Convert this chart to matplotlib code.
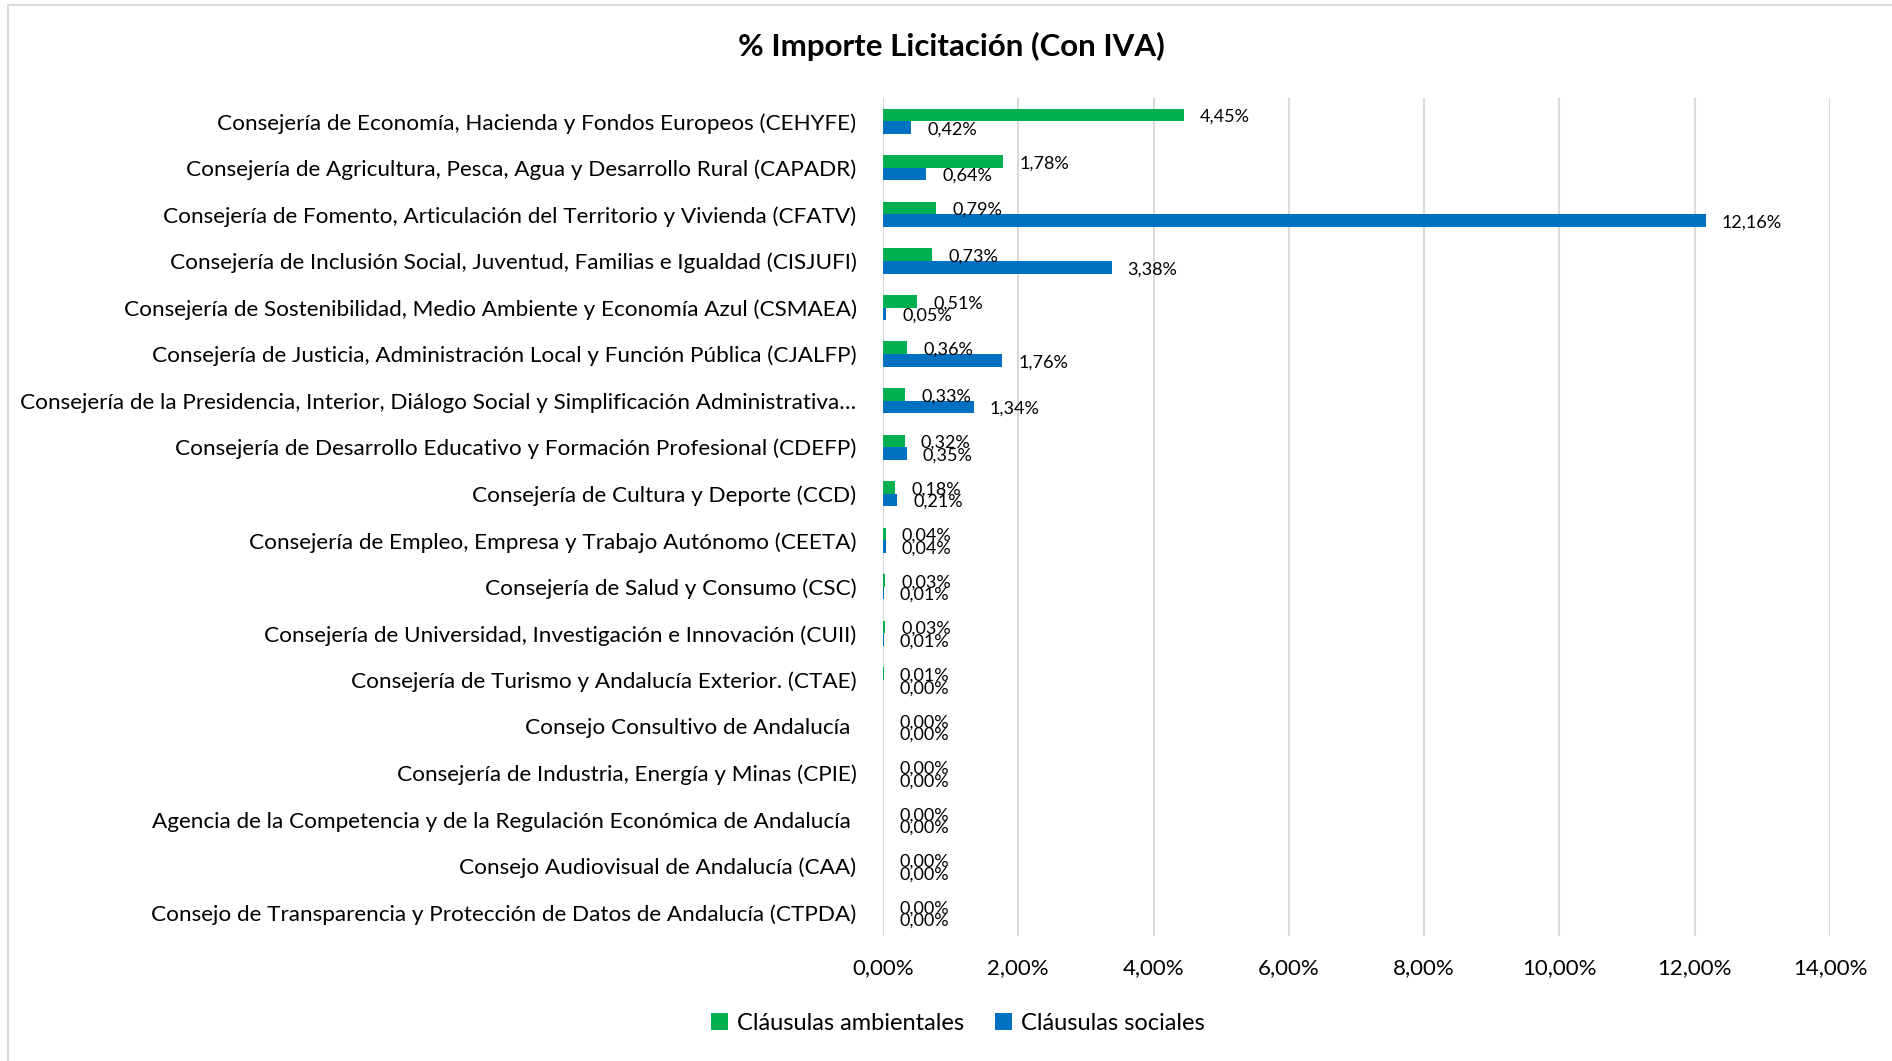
import matplotlib
matplotlib.use("Agg")
import matplotlib.pyplot as plt
import numpy as np
from matplotlib.patches import Rectangle
from matplotlib.transforms import offset_copy

plt.rcParams['font.family'] = ['Lato', 'DejaVu Sans']

categories = [
    "Consejería de Economía, Hacienda y Fondos Europeos (CEHYFE)",
    "Consejería de Agricultura, Pesca, Agua y Desarrollo Rural (CAPADR)",
    "Consejería de Fomento, Articulación del Territorio y Vivienda (CFATV)",
    "Consejería de Inclusión Social, Juventud, Familias e Igualdad (CISJUFI)",
    "Consejería de Sostenibilidad, Medio Ambiente y Economía Azul (CSMAEA)",
    "Consejería de Justicia, Administración Local y Función Pública (CJALFP)",
    "Consejería de la Presidencia, Interior, Diálogo Social y Simplificación Administrativa…",
    "Consejería de Desarrollo Educativo y Formación Profesional (CDEFP)",
    "Consejería de Cultura y Deporte (CCD)",
    "Consejería de Empleo, Empresa y Trabajo Autónomo (CEETA)",
    "Consejería de Salud y Consumo (CSC)",
    "Consejería de Universidad, Investigación e Innovación (CUII)",
    "Consejería de Turismo y Andalucía Exterior. (CTAE)",
    "Consejo Consultivo de Andalucía ",
    "Consejería de Industria, Energía y Minas (CPIE)",
    "Agencia de la Competencia y de la Regulación Económica de Andalucía ",
    "Consejo Audiovisual de Andalucía (CAA)",
    "Consejo de Transparencia y Protección de Datos de Andalucía (CTPDA)",
]
ambientales = [4.45, 1.78, 0.79, 0.73, 0.51, 0.36, 0.33, 0.32, 0.18, 0.04, 0.03, 0.03, 0.01, 0.00, 0.00, 0.00, 0.00, 0.00]
sociales = [0.42, 0.64, 12.16, 3.38, 0.05, 1.76, 1.34, 0.35, 0.21, 0.04, 0.01, 0.01, 0.00, 0.00, 0.00, 0.00, 0.00, 0.00]
xticks = [0, 2, 4, 6, 8, 10, 12, 14]
title = "% Importe Licitación (Con IVA)"
series_names = ["Cláusulas ambientales", "Cláusulas sociales"]

GREEN = "#00B050"
BLUE = "#0070C0"

fig = plt.figure(figsize=(18.92, 10.61), dpi=100)
fig.patches.append(Rectangle((8/1892, -1), 2, 2 - 5/1061, transform=fig.transFigure,
                             fill=False, edgecolor="#D9D9D9", linewidth=1.5))
ax = fig.add_axes([883/1892, 1 - 936/1061, (1830 - 883)/1892, (936 - 98)/1061])

n = len(categories)
y = np.arange(n)
h = 0.27
ax.barh(y - h/2, ambientales, height=h, color=GREEN, label=series_names[0], zorder=3)
ax.barh(y + h/2, sociales, height=h, color=BLUE, label=series_names[1], zorder=3)

ax.set_ylim(n - 0.5, -0.5)
ax.set_xlim(0, 14)
ax.set_xticks(xticks)
ax.set_xticklabels([f"{v:.2f}%".replace(".", ",") for v in xticks], fontsize=16)
ax.set_yticks(y)
ax.set_yticklabels(categories, fontsize=16.2)
ax.tick_params(axis="both", length=0)
ax.tick_params(axis="y", pad=19)
ax.tick_params(axis="x", pad=16)
for s in ax.spines.values():
    s.set_visible(False)
ax.grid(axis="x", color="#D9D9D9", linewidth=1.5, zorder=0)

tr = offset_copy(ax.transData, fig=fig, x=16, y=-2, units="dots")
for i in range(n):
    ax.text(ambientales[i], y[i] - h/2, f"{ambientales[i]:.2f}%".replace(".", ","),
            transform=tr, va="center", ha="left", fontsize=13, color="#000000", zorder=4)
    ax.text(sociales[i], y[i] + h/2, f"{sociales[i]:.2f}%".replace(".", ","),
            transform=tr, va="center", ha="left", fontsize=13, color="#000000", zorder=4)

fig.text(951/1892, 1 - 46/1061, title, ha="center", va="center", fontsize=22.5, fontweight="bold")
fig.legend(loc="center", bbox_to_anchor=(958/1892, 1 - 1023/1061), ncol=2, frameon=False,
           fontsize=17, handlelength=0.7, handleheight=0.7, handletextpad=0.4, columnspacing=1.3)

fig.savefig("out.png", dpi=100)
